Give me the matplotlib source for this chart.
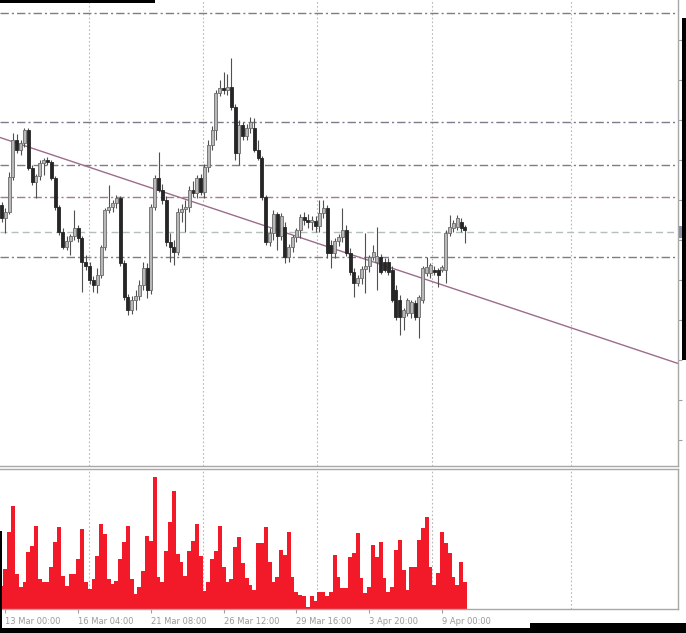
import numpy as np
import matplotlib
matplotlib.use("Agg")
import matplotlib.pyplot as plt
from matplotlib.patches import Rectangle

# ---- data (H4 bars; prices given in pips above 1.0000) ----
open_pips = [995,982,988,1023,1060,1050,1057,1070,1032,1018,
             1024,1037,1040,1038,1022,993,968,953,959,964,
             972,962,938,934,920,915,925,953,990,993,
             997,1002,937,903,890,900,904,915,932,910,
             993,1022,1010,1000,958,953,948,988,991,993,
             1010,1007,1022,1008,1033,1055,1070,1107,1112,1110,
             1113,1093,1047,1075,1064,1072,1072,1050,1042,1003,
             958,967,986,964,973,943,953,963,970,983,
             980,978,979,974,987,992,955,947,959,963,
             970,947,928,917,922,931,934,943,938,943,
             938,938,930,910,900,883,887,887,897,883,
             900,927,927,930,930,930,930,967,972,973,
             978,973]
high_pips = [998,992,1028,1067,1066,1060,1072,1072,1035,1026,
             1040,1042,1043,1040,1024,995,972,964,966,990,
             975,964,945,938,924,932,955,992,1015,1000,
             1005,1004,940,906,904,910,920,938,937,996,
             1025,1048,1016,1004,967,960,992,996,1000,1014,
             1019,1025,1026,1036,1060,1074,1110,1120,1128,1126,
             1142,1096,1080,1078,1076,1083,1082,1060,1044,1005,
             972,990,988,987,978,956,965,972,986,988,
             986,984,984,1000,1000,995,960,962,966,992,
             975,952,932,925,934,967,945,955,973,946,
             942,942,934,915,905,892,902,900,900,905,
             934,943,937,934,932,935,970,985,980,985,
             982,975]
low_pips = [978,967,986,1020,1047,1045,1053,1030,1015,1002,
            1020,1025,1035,1020,990,965,951,950,945,960,
            958,908,930,916,908,907,922,950,987,988,
            992,934,900,885,886,890,900,910,902,906,
            990,1008,996,954,938,935,945,978,968,988,
            1003,1002,1005,1002,1028,1050,1060,1104,1106,1105,
            1090,1040,1035,1060,1060,1067,1048,1040,1000,955,
            954,960,950,960,937,938,948,958,962,975,
            972,970,968,968,982,942,932,942,954,958,
            944,925,903,914,916,907,928,940,910,926,
            928,925,898,880,865,870,884,882,880,862,
            897,924,922,925,913,928,917,964,968,970,
            968,957]
close_pips = [982,988,1023,1060,1050,1057,1070,1032,1018,1024,
              1037,1040,1038,1022,993,968,953,959,964,972,
              962,938,934,920,915,925,953,990,993,997,
              1002,937,903,890,900,904,915,932,910,993,
              1022,1010,1000,958,953,948,988,991,993,1010,
              1007,1022,1008,1033,1055,1070,1107,1112,1110,1113,
              1093,1047,1075,1064,1072,1078,1050,1042,1003,958,
              967,986,964,984,943,953,963,970,983,980,
              978,979,974,987,992,947,947,959,963,970,
              947,928,917,922,931,934,943,948,944,928,
              930,928,900,883,883,890,900,898,883,903,
              932,933,935,928,925,933,967,973,977,982,
              972,970]
volumes = [23,40,77,103,35,22,27,57,63,83,30,27,27,42,67,82,33,23,35,35,
           50,80,27,20,30,53,85,75,30,25,28,50,67,83,30,15,22,38,73,68,
           132,32,27,58,87,118,55,47,33,58,68,85,53,18,27,50,58,83,42,27,
           30,62,72,46,31,24,19,66,66,82,47,27,32,59,54,77,32,17,14,13,
           2,13,8,17,17,13,17,54,32,21,21,52,56,76,31,16,22,64,52,67,
           31,17,22,59,69,39,19,42,42,69,81,92,42,24,36,77,66,56,32,24,
           47,27]
tick_bars = [1, 20, 39, 58, 77, 96, 115]
tick_labels = ["13 Mar 00:00", "16 Mar 04:00", "21 Mar 08:00", "26 Mar 12:00",
               "29 Mar 16:00", "3 Apr 20:00", "9 Apr 00:00"]
vgrid_bars = [22.85, 52.6, 82.4, 112.4, 148.7]
level_pips = [1187, 1078, 1035, 1003, 943]
level_colors = ["#7c7c8a", "#7c7c8a", "#7c7c8a", "#a87a8a", "#7c7c8a"]
bid_pips = 968
trend_bars = [0, 170]
trend_pips = [1062, 845]

to_price = lambda a: 1.0 + np.asarray(a, dtype=float) / 10000.0
O, H, L, C = map(to_price, (open_pips, high_pips, low_pips, close_pips))
x = np.arange(len(O))

W, Hpx = 686, 633
fig = plt.figure(figsize=(W / 100, Hpx / 100), dpi=100)
fig.patch.set_facecolor("white")

def fx(px): return px / W
def fy(py): return 1 - py / Hpx

ax = fig.add_axes([0, fy(466), fx(678), 466 / Hpx])
axv = fig.add_axes([0, fy(609), fx(678), (609 - 469) / Hpx])

xlim = (-1.5 / 3.83, (678 - 1.5) / 3.83)
for a in (ax, axv):
    a.set_xlim(*xlim)
    a.set_facecolor("white")
    for s in a.spines.values():
        s.set_color("#a8a8a8")
        s.set_linewidth(1.0)
    a.spines["left"].set_visible(False)
    for g in vgrid_bars:
        a.axvline(g, color="#b8b8b8", lw=0.8, ls=(0, (1.5, 2.0)), zorder=0)

ax.spines["top"].set_visible(False)
ax.set_ylim(to_price(734), to_price(1200))

# horizontal levels
for lv, col in zip(level_pips, level_colors):
    ax.axhline(to_price(lv), color=col, lw=1.0, ls=(0, (6, 2.2, 1.5, 2.2)), zorder=1)
ax.axhline(to_price(bid_pips), color="#b2c0bc", lw=1.0, ls=(0, (5, 3)), zorder=1)

# trend line
ax.axline((trend_bars[0], to_price(trend_pips[0])), (trend_bars[1], to_price(trend_pips[1])),
          color="#9c6c8c", lw=1.0, zorder=2)

# candles
bull = C >= O
ax.vlines(x, L, H, color="#505050", lw=0.8, zorder=3)
body_lo = np.minimum(O, C)
body_h = np.maximum(np.abs(C - O), 0.00015)
ax.bar(x[bull], body_h[bull], bottom=body_lo[bull], width=0.78,
       color="#b8b8b8", edgecolor="#6a6a6a", linewidth=0.6, zorder=4)
ax.bar(x[~bull], body_h[~bull], bottom=body_lo[~bull], width=0.78,
       color="#262626", edgecolor="#262626", linewidth=0.6, zorder=4)

ax.set_xticks([])
ax.yaxis.tick_right()
ax.set_yticks(to_price(np.arange(760, 1200, 40)))
ax.tick_params(axis="y", length=3, color="#a0a0a0", labelright=False)

# volume
axv.bar(x, volumes, width=1.0, color="#f21a28", linewidth=0, zorder=2)
axv.set_ylim(0, 140)
axv.set_yticks([])
axv.set_xticks(tick_bars)
axv.set_xticklabels(tick_labels, fontsize=6, color="#9a9a9a", ha="left")
axv.tick_params(axis="x", length=3, color="#a0a0a0", pad=3)

# current price marker on the axis
fig.add_artist(Rectangle((fx(679), fy(238)), fx(7), 12 / Hpx, transform=fig.transFigure,
                         facecolor="#8e8ea4", edgecolor="none"))
# screenshot crop artefacts
for (x0, y0, x1, y1) in [(0, 0, 155, 3), (682, 18, 686, 360), (0, 628, 686, 633),
                         (530, 623, 686, 633), (0, 531, 2, 633)]:
    fig.add_artist(Rectangle((fx(x0), fy(y1)), fx(x1 - x0), (y1 - y0) / Hpx,
                             transform=fig.transFigure, facecolor="black", edgecolor="none"))

fig.savefig("out.png", dpi=100)
